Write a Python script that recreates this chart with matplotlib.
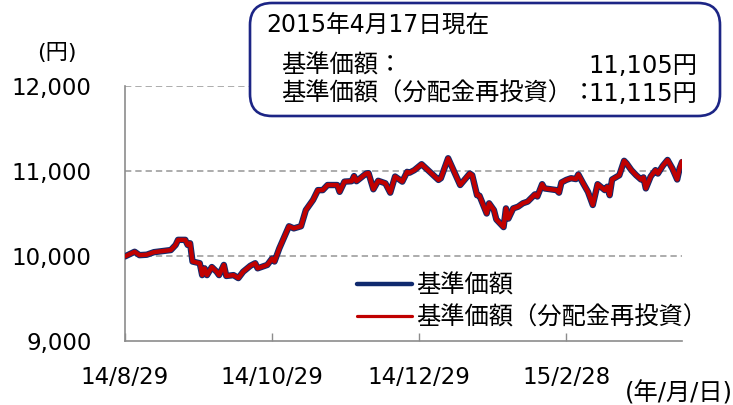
import matplotlib
matplotlib.use('Agg')
import matplotlib.pyplot as plt
import matplotlib.transforms as mtransforms
from matplotlib.patches import FancyBboxPatch
from matplotlib.lines import Line2D
import pandas as pd

plt.rcParams['font.family'] = ['DejaVu Sans', 'Noto Sans CJK JP']

# ---------------- data ----------------
dates = [
    '2014-08-29', '2014-09-02', '2014-09-04', '2014-09-07', '2014-09-10',
    '2014-09-17', '2014-09-19', '2014-09-20', '2014-09-23', '2014-09-24',
    '2014-09-25', '2014-09-26', '2014-09-29', '2014-09-30', '2014-10-01',
    '2014-10-02', '2014-10-04', '2014-10-06', '2014-10-07', '2014-10-09',
    '2014-10-10', '2014-10-13', '2014-10-15', '2014-10-17', '2014-10-20',
    '2014-10-22', '2014-10-23', '2014-10-27', '2014-10-29', '2014-10-30',
    '2014-11-01', '2014-11-05', '2014-11-07', '2014-11-10', '2014-11-12',
    '2014-11-15', '2014-11-17', '2014-11-19', '2014-11-21', '2014-11-25',
    '2014-11-26', '2014-11-28', '2014-12-01', '2014-12-02', '2014-12-03',
    '2014-12-07', '2014-12-08', '2014-12-10', '2014-12-12', '2014-12-15',
    '2014-12-17', '2014-12-19', '2014-12-22', '2014-12-24', '2014-12-25',
    '2014-12-27', '2014-12-30', '2015-01-06', '2015-01-07', '2015-01-10',
    '2015-01-15', '2015-01-19', '2015-01-20', '2015-01-22', '2015-01-23',
    '2015-01-26', '2015-01-27', '2015-01-29', '2015-01-30', '2015-02-02',
    '2015-02-03', '2015-02-04', '2015-02-06', '2015-02-08', '2015-02-10',
    '2015-02-12', '2015-02-15', '2015-02-16', '2015-02-18', '2015-02-19',
    '2015-02-24', '2015-02-25', '2015-02-26', '2015-02-28', '2015-03-02',
    '2015-03-04', '2015-03-05', '2015-03-07', '2015-03-09', '2015-03-11',
    '2015-03-13', '2015-03-16', '2015-03-17', '2015-03-18', '2015-03-19',
    '2015-03-22', '2015-03-24', '2015-03-25', '2015-03-27', '2015-03-29',
    '2015-03-31', '2015-04-01', '2015-04-02', '2015-04-04', '2015-04-06',
    '2015-04-07', '2015-04-09', '2015-04-11', '2015-04-13', '2015-04-15',
    '2015-04-16', '2015-04-17',
]

nav = [
    9995, 10050, 10010, 10015, 10045,
    10070, 10130, 10190, 10190, 10130,
    10150, 9935, 9915, 9775, 9855,
    9775, 9870, 9815, 9775, 9895,
    9765, 9775, 9740, 9815, 9885,
    9915, 9855, 9895, 9970, 9935,
    10090, 10350, 10325, 10350, 10540,
    10660, 10775, 10775, 10835, 10835,
    10755, 10875, 10880, 10940, 10880,
    10970, 10975, 10785, 10885, 10855,
    10745, 10935, 10875, 10990, 10980,
    11010, 11080, 10895, 10915, 11150,
    10835, 10970, 10950, 10715, 10710,
    10500, 10620, 10540, 10430, 10340,
    10560, 10440, 10560, 10580, 10620,
    10640, 10725, 10700, 10845, 10795,
    10775, 10745, 10865, 10895, 10915,
    10905, 10960, 10855, 10755, 10600,
    10845, 10775, 10815, 10715, 10900,
    10950, 11120, 11090, 11010, 10950,
    10900, 10925, 10795, 10935, 11010,
    10970, 11060, 11130, 11030, 10900,
    11030, 11105,
]

nav_reinvested = [
    9995, 10050, 10010, 10015, 10045,
    10070, 10130, 10190, 10190, 10130,
    10150, 9935, 9915, 9775, 9855,
    9775, 9870, 9815, 9775, 9895,
    9765, 9775, 9740, 9815, 9885,
    9915, 9855, 9895, 9970, 9935,
    10090, 10350, 10325, 10350, 10540,
    10660, 10775, 10775, 10835, 10835,
    10755, 10875, 10880, 10940, 10880,
    10970, 10975, 10785, 10885, 10855,
    10745, 10935, 10875, 10990, 10980,
    11010, 11080, 10895, 10915, 11150,
    10835, 10970, 10950, 10715, 10710,
    10500, 10620, 10540, 10430, 10340,
    10560, 10440, 10560, 10580, 10620,
    10640, 10725, 10700, 10845, 10795,
    10775, 10745, 10865, 10895, 10915,
    10905, 10960, 10855, 10755, 10600,
    10845, 10775, 10815, 10715, 10900,
    10950, 11120, 11090, 11010, 10950,
    10900, 10925, 10795, 10935, 11010,
    10970, 11060, 11130, 11030, 10900,
    11030, 11115,
]

series_labels = ['基準価額', '基準価額（分配金再投資）']
y_ticks = [9000, 10000, 11000, 12000]
y_tick_labels = ['9,000', '10,000', '11,000', '12,000']
x_ticks = ['2014-08-29', '2014-10-29', '2014-12-29', '2015-02-28']
x_tick_labels = ['14/8/29', '14/10/29', '14/12/29', '15/2/28']
x_range = ['2014-08-29', '2015-04-17']

box_title = '2015年4月17日現在'
box_rows = [('基準価額：', '11,105円'), ('基準価額（分配金再投資）：', '11,115円')]

# ---------------- figure ----------------
W, H = 733, 405
fig = plt.figure(figsize=(W / 100, H / 100), dpi=100)


def fx(x):
    return x / W


def fy(y):
    return 1 - y / H


ax = fig.add_axes([fx(125), fy(341), (682 - 125) / W, (341 - 86) / H])

NAVY = '#102a6e'
RED = '#c00000'
GREY = '#8c8c8c'

x = pd.to_datetime(dates)
ax.plot(x, nav, color=NAVY, lw=4.6, solid_joinstyle='round',
        solid_capstyle='round', zorder=3)
ax.plot(x, nav_reinvested, color=RED, lw=3.1, solid_joinstyle='round',
        solid_capstyle='round', zorder=4)

ax.set_ylim(y_ticks[0], y_ticks[-1])
ax.set_xlim(pd.Timestamp(x_range[0]), pd.Timestamp(x_range[1]))

for v in y_ticks[1:]:
    ax.axhline(v, color='#a6a6a6', lw=1.3, ls=(0, (3.5, 2.2)), zorder=1)

ax.set_yticks(y_ticks)
ax.set_yticklabels(y_tick_labels)
ax.set_xticks(pd.to_datetime(x_ticks))
ax.set_xticklabels(x_tick_labels)
ax.tick_params(axis='y', length=0, pad=24, labelsize=16.5, colors='black')
ax.tick_params(axis='x', direction='in', length=5.5, width=1.0, color=GREY,
               pad=18, labelsize=16.5, labelcolor='black')

for s in ['top', 'right']:
    ax.spines[s].set_visible(False)
for s in ['left', 'bottom']:
    ax.spines[s].set_color(GREY)
    ax.spines[s].set_linewidth(1.2)

# legend
handles = [Line2D([], [], color=NAVY, lw=3.2, solid_capstyle='round'),
           Line2D([], [], color=RED, lw=2.3, solid_capstyle='round')]
leg = ax.legend(handles, series_labels, loc='upper left',
                bbox_to_anchor=(fx(357), fy(274)), bbox_transform=fig.transFigure,
                frameon=False, fontsize=17.5, handlelength=2.25,
                handletextpad=0.17, labelspacing=0.3, borderpad=0,
                borderaxespad=0)

# axis unit labels
fig.text(fx(57), fy(53), '(円)', fontsize=16, ha='center', va='center')
fig.text(fx(733), fy(393), '(年/月/日)', fontsize=17.5, ha='right', va='center')

# info box
box = FancyBboxPatch((250, H - 116), 470, 113,
                     boxstyle='round,pad=0,rounding_size=22',
                     transform=mtransforms.IdentityTransform(),
                     facecolor='white', edgecolor='#1c2585', lw=1.9, zorder=10)
fig.add_artist(box)
fig.text(fx(266), fy(26), box_title, fontsize=17, ha='left', va='center', zorder=11)
row_y = [66, 94]
for (lab, val), yy in zip(box_rows, row_y):
    fig.text(fx(281), fy(yy), lab, fontsize=17.5, ha='left', va='center', zorder=11)
    fig.text(fx(697), fy(yy), val, fontsize=17.5, ha='right', va='center', zorder=11)

fig.savefig('out.png', dpi=100)
